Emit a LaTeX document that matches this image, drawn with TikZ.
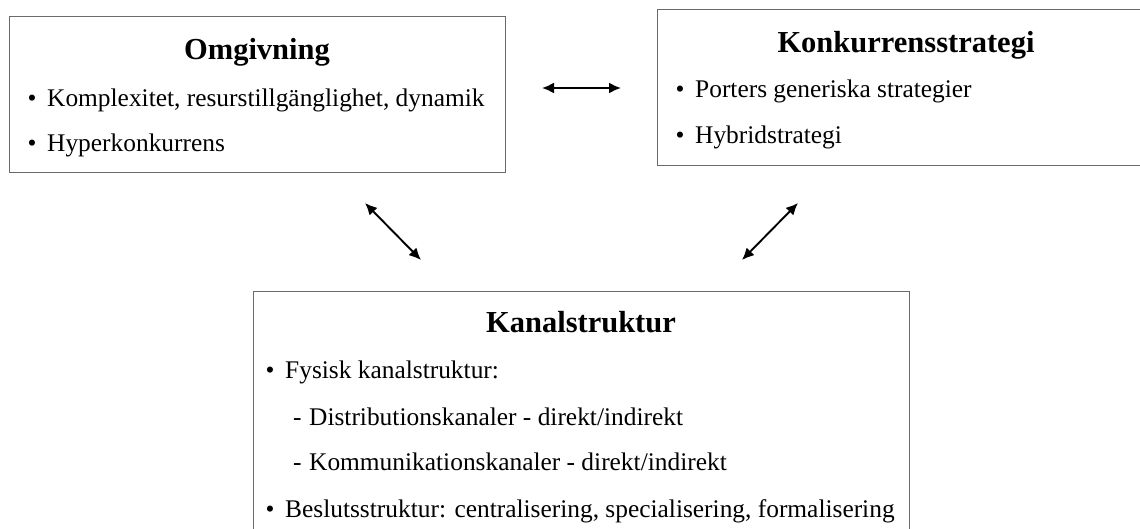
\documentclass[tikz,border=0pt]{standalone}
\usepackage{fontspec}
\setmainfont{Liberation Serif}
\usetikzlibrary{arrows.meta}
\definecolor{boxgray}{HTML}{6A6A6A}
\tikzset{
  panel/.style={draw=boxgray, line width=1.4pt, fill=none, inner sep=0pt},
  ttl/.style={anchor=base, inner sep=0pt, font=\fontsize{30.5}{36}\selectfont\bfseries},
  item/.style={anchor=base west, inner sep=0pt, font=\fontsize{25.4}{30}\selectfont},
  link/.style={line width=1.9pt, {Latex[length=12pt,width=11pt]}-{Latex[length=12pt,width=11pt]}}
}
\newcommand{\bul}{\makebox[19.5pt][l]{\textbullet}}
\newcommand{\dsh}{\makebox[16pt][l]{-}}
\begin{document}
\begin{tikzpicture}[x=1pt,y=-1pt]
\useasboundingbox (0,0) rectangle (1140,529);
\clip (0,0) rectangle (1140,529);
\fill[white] (0,0) rectangle (1140,529);
% boxes
\node[panel, minimum width=496pt, minimum height=156pt, anchor=north west] (omg) at (9,16) {};
\node[panel, minimum width=500pt, minimum height=156pt, anchor=north west] (kon) at (657,9) {};
\node[panel, minimum width=656pt, minimum height=260pt, anchor=north west] (kan) at (253,291) {};
% box 1
\node[ttl] (omgt) at (257,60) {Omgivning};
\node[item] (omg1) at (27.5,107) {\bul Komplexitet, resurstillgänglighet, dynamik};
\node[item] (omg2) at (27.5,152) {\bul Hyperkonkurrens};
% box 2
\node[ttl] (kont) at (906,53) {Konkurrensstrategi};
\node[item] (kon1) at (675.5,98) {\bul Porters generiska strategier};
\node[item] (kon2) at (675.5,144) {\bul Hybridstrategi};
% box 3
\node[ttl] (kant) at (581,332) {Kanalstruktur};
\node[item] (kan1) at (265.5,378) {\bul Fysisk kanalstruktur:};
\node[item] (kan2) at (293,425) {\dsh Distributionskanaler - direkt/indirekt};
\node[item] (kan3) at (293,470) {\dsh Kommunikationskanaler - direkt/indirekt};
\node[item] (kan4) at (265.5,517) {\bul Beslutsstruktur: centralisering, specialisering, formalisering};
% connectors
\coordinate (h1) at (542,88);
\coordinate (h2) at (621,88);
\coordinate (d1a) at (365,203);
\coordinate (d1b) at (421,260);
\coordinate (d2a) at (798,203);
\coordinate (d2b) at (742,260);
\draw[link] (h1) -- (h2);
\draw[link] (d1a) -- (d1b);
\draw[link] (d2a) -- (d2b);
\end{tikzpicture}
\end{document}
